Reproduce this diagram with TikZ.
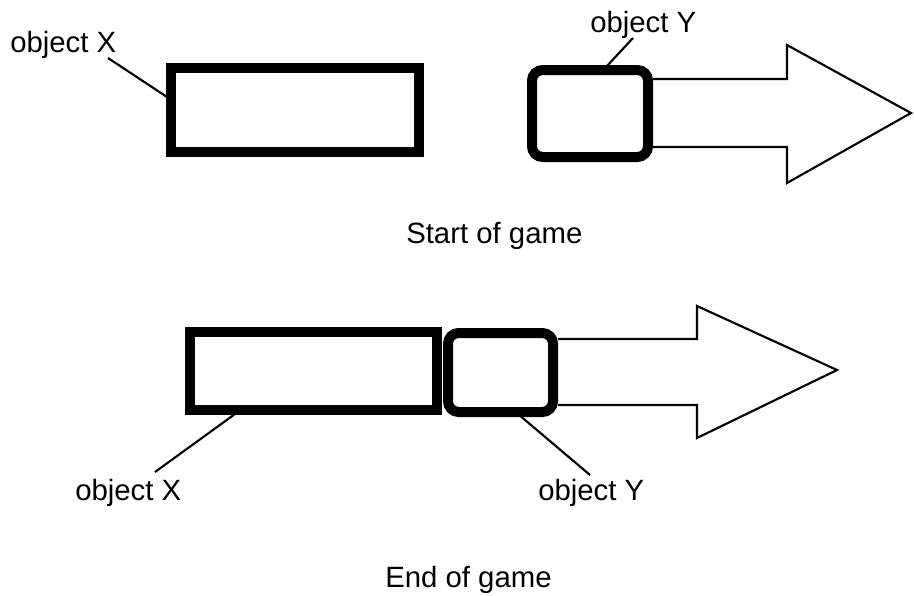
\documentclass[tikz,border=0pt]{standalone}
\usepackage{fontspec}
\setmainfont{Liberation Sans}
\begin{document}
\begin{tikzpicture}[x=0.75pt,y=-0.75pt,
  lbl/.style={anchor=base west,inner sep=0pt,font=\fontsize{22}{26}\selectfont},
  objbox/.style={draw=black,fill=white,line width=7.5pt,inner sep=0pt},
  roundbox/.style={objbox,rounded corners=8pt},
  leader/.style={draw=black,line width=1.6pt},
  bigarrow/.style={draw=black,line width=1.6pt,line join=miter,fill=white}]
\useasboundingbox (0,0) rectangle (914,596);

% ---------- Start of game ----------
\draw[bigarrow] (653,79) -- (787,79) -- (787,45) -- (911,113) -- (787,183) -- (787,147) -- (653,147);
\node[objbox,minimum width=186pt,minimum height=63pt] (xt) at (295,110) {};
\node[roundbox,minimum width=87pt,minimum height=65.25pt] (yt) at (590,113.5) {};
\node[lbl] (lxt) at (10,52) {object X};
\node[lbl] (lyt) at (590,32) {object Y};
\coordinate (axt) at (108,58);
\coordinate (bxt) at (167,97);
\coordinate (ayt) at (633,38);
\coordinate (byt) at (607,66);
\draw[leader] (axt) -- (bxt);
\draw[leader] (ayt) -- (byt);
\node[lbl] (st) at (406,243) {Start of game};

% ---------- End of game ----------
\draw[bigarrow] (558,339) -- (697,339) -- (697,306) -- (837,370) -- (697,438) -- (697,405) -- (558,405);
\node[objbox,minimum width=185.25pt,minimum height=58.5pt] (xb) at (313.5,371) {};
\node[roundbox,minimum width=78.75pt,minimum height=59.25pt] (yb) at (500.5,372.5) {};
\node[lbl] (lxb) at (75,500) {object X};
\node[lbl] (lyb) at (538,500) {object Y};
\coordinate (axb) at (155,472);
\coordinate (bxb) at (235,414);
\coordinate (ayb) at (590,475);
\coordinate (byb) at (518,414);
\draw[leader] (axb) -- (bxb);
\draw[leader] (ayb) -- (byb);
\node[lbl] (en) at (385,587) {End of game};
\end{tikzpicture}
\end{document}
